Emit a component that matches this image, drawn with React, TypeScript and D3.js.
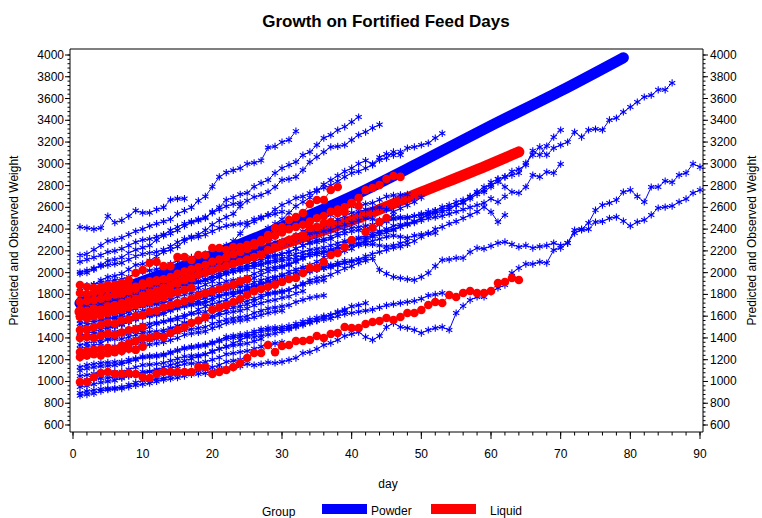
import React from 'react';
import * as d3 from 'd3';

type Pt = [number, number];

const title = 'Growth on Fortified Feed Days';
const xLabel = 'day';
const yLabel = 'Predicted and Observed Weight';
const legendTitle = 'Group';
const groupNames = ['Powder', 'Liquid'];
const xTickLabels = [0, 10, 20, 30, 40, 50, 60, 70, 80, 90];
const yTickLabels = [600, 800, 1000, 1200, 1400, 1600, 1800, 2000, 2200, 2400, 2600, 2800, 3000, 3200, 3400, 3600, 3800, 4000];

// predicted curves (day, weight)
const powderPredDays = [1, 10, 20, 30, 40, 50, 60, 70, 79];
const powderPredWeights = [1720, 1920, 2160, 2420, 2700, 3020, 3350, 3670, 3975];
const liquidPredDays = [1, 10, 20, 30, 40, 50, 60, 64];
const liquidPredWeights = [1640, 1830, 2040, 2260, 2480, 2740, 3000, 3110];

// observed weights, one value per day starting at day 1
const powderSubjects: number[][] = [
  [2420,2410,2400,2410,2520,2460,2480,2520,2570,2550,2550,2580,2600,2670,2680,2680],
  [2160,2170,2210,2250,2290,2300,2320,2350,2380,2400,2430,2450,2470,2490,2540,2570,2600,2660,2700,2790,2880,2920,2940,2960,3000,3010,3030,3150,3160,3200,3220,3300],
  [1990,2000,2030,2070,2110,2120,2140,2180,2210,2230,2250,2300,2340,2360,2390,2430,2460,2480,2500,2560,2600,2667,2690,2720,2732,2790,2824,2851,2915,2960,2990,3017,3080,3109,3173,3237,3265,3310,3340,3385,3430],
  [1860,1870,1890,1930,1960,1970,1990,2030,2070,2080,2110,2150,2190,2210,2240,2290,2330,2350,2390,2440,2480,2510,2540,2610,2660,2695,2713,2741,2787,2851,2860,2880,2943,3017,3063,3109,3155,3160,3173,3219,3265,3292,3330,3360],
  [1640,1670,1690,1710,1720,1750,1750,1800,1830,1850,1870,1890,1910,1950,1980,2010,2030,2060,2090,2140,2190,2230,2290,2360,2438,2470,2500,2530,2580,2621,2650,2686,2700,2730,2760,2780,2800,2840,2880,2915,2930,2960,2990,3035,3053,3109,3081,3145,3155,3173,3191,3237,3280],
  [1300,1320,1330,1350,1390,1410,1430,1440,1460,1470,1500,1530,1550,1560,1570,1590,1630,1660,1690,1710,1730,1750,1790,1820,1860,1880,1900,1920,1950,1980,2010,2030,2050,2070,2100,2140,2170,2190,2200,2220,2260,2300,2330,2350,2370,2390,2420,2450,2470,2500,2530,2570,2603,2621,2650,2667,2695,2741,2787,2806,2833,2880,2897,2915,3007,3081,3155,3081,3145,3173,3200,3292,3246,3311,3320,3311,3403,3421,3476,3522,3568,3614,3630,3680,3680,3743],
  [1500,1520,1540,1570,1580,1590,1610,1640,1670,1700,1710,1720,1740,1770,1800,1830,1850,1860,1890,1920,1960,1990,2010,2030,2050,2080,2110,2140,2150,2170,2190,2220,2250,2280,2300,2310,2330,2360,2390,2410,2420,2430,2440,2460,2480,2500,2510,2500,2520,2540,2560,2570,2580,2600,2620,2640,2700,2740,2741,2790,2860,2880,2930,2950,2990,3120,3081,3164,3246,3311],
  [1420,1440,1460,1480,1490,1500,1520,1550,1580,1600,1610,1620,1640,1670,1700,1720,1730,1740,1770,1800,1830,1860,1880,1890,1920,1950,1980,2010,2030,2050,2070,2100,2130,2160,2170,2180,2210,2240,2270,2300,2310,2320,2340,2370,2400,2430,2440,2450,2470,2500,2530,2550,2560,2580,2620,2650,2680,2720,2760,2830,2860,2787,2741,2732,2787,2897,2880,2925,2915,2998],
  [1240,1260,1280,1300,1310,1320,1340,1370,1390,1410,1420,1430,1450,1480,1510,1530,1540,1550,1570,1600,1630,1660,1680,1690,1710,1740,1770,1800,1810,1820,1840,1870,1900,1930,1950,1960,1980,2010,2040,2060,2090,2110,2130,2024,1990,1960,1950,1940,1932,1960,1997,2060,2116,2120,2134,2134,2190,2226,2220,2245,2272,2282,2260,2236,2250,2226,2240,2250,2272,2250,2272,2392,2400,2456,2575,2621,2640,2667,2741,2760,2700,2649,2787,2787,2842,2830,2897,2915,3000,2970],
  [870,880,890,910,925,930,935,950,965,975,985,1000,1015,1025,1035,1050,1065,1070,1075,1095,1115,1120,1125,1140,1160,1150,1160,1175,1170,1180,1197,1215,1261,1270,1298,1335,1353,1381,1418,1436,1454,1408,1381,1418,1500,1537,1500,1491,1473,1445,1473,1490,1500,1473,1629,1693,1748,1776,1776,1822,1859,1886,1997,2042,2079,2079,2098,2088,2208,2226,2272,2364,2392,2400,2465,2470,2500,2511,2474,2429,2465,2484,2530,2594,2603,2612,2649,2677,2732,2760],
  [950,960,975,990,1000,1010,1030,1050,1060,1070,1090,1110,1130,1150,1170,1190,1210,1230,1250,1280,1300,1320,1350,1380,1408,1410,1420,1430,1440,1460,1480,1500,1520,1540,1560,1590,1610,1630,1650],
  [2100,2120,2140,2160,2190,2200,2220,2250,2280,2300,2310,2330,2350,2390,2420,2450,2470,2490,2510,2550,2580,2610,2630,2640],
  [1560,1580,1600,1630,1640,1650,1670,1700,1730,1760,1780,1800,1820,1850,1880,1910,1930,1950,1980,2020,2060,2110,2150,2180,2220,2280,2340,2410,2450,2490,2550,2610,2650,2690,2750,2810,2850,2890,2930,2960,3000,3030,3000,3060,3090,3080,3110],
  [2006,2020,2040,2060,2070,2080,2090,2120,2150,2170,2180,2190,2210,2240,2280,2310,2320,2330,2350,2380,2410,2430,2440,2450,2460,2490,2510,2530,2540,2560],
  [1730,1750,1770,1790,1800,1800,1810,1840,1870,1890,1900,1910,1930,1960,1990,2010,2020,2030,2050,2080,2110,2130,2140,2150,2170,2200,2230,2260,2280,2290,2310,2340,2380,2410,2430,2440,2460,2490,2520,2550,2560,2580,2590,2600,2580,2560,2590,2620,2650,2690],
  [1629,1640,1650,1660,1670,1680,1690,1720,1750,1770,1780,1790,1810,1840,1870,1890,1900,1910,1940,1970,2000,2020,2030,2050,2070,2100,2130,2150,2160,2170,2190,2220,2250,2270,2280,2290,2310,2340,2360,2380,2390,2400,2410,2440,2470,2490,2500,2510,2520,2530,2540,2548],
  [1583,1590,1600,1610,1615,1620,1630,1650,1670,1690,1700,1710,1720,1750,1780,1800,1810,1820,1840,1870,1900,1920,1930,1940,1960,1990,2020,2040,2050,2060,2080,2110,2140,2160,2170,2180,2190,2210,2240,2260,2270,2280,2290,2310,2330,2340,2330,2320,2340,2350,2360,2364],
  [1473,1490,1500,1510,1515,1520,1530,1550,1570,1590,1600,1610,1620,1650,1670,1690,1700,1710,1720,1750,1780,1800,1810,1820,1840,1860,1890,1910,1920,1930,1950,1980,2000,2020,2030,2040,2050,2070,2090,2110,2120,2130],
  [1408,1420,1440,1450,1450,1455,1460,1480,1500,1520,1530,1540,1550,1570,1590,1610,1620,1630,1640,1670,1690,1710,1720,1730,1740,1760,1790,1810,1820,1830,1840,1870,1890,1910,1920,1930],
  [1335,1350,1370,1380,1385,1390,1390,1410,1430,1450,1455,1460,1470,1490,1510,1540,1550,1560,1570,1590,1610,1630,1640,1650,1670,1700,1720,1740,1750,1770,1780,1810,1830],
  [1215,1230,1250,1260,1260,1265,1270,1290,1310,1330,1340,1350,1360,1380,1400,1430,1440,1450,1460,1490,1510,1540,1550,1560,1570,1590,1610,1630,1640,1650],
  [1133,1150,1160,1170,1175,1178,1180,1200,1210,1230,1235,1240,1250,1270,1290,1310,1320,1330,1340,1360,1380,1410,1420,1430,1440,1460,1480,1490,1495,1500,1510,1530,1550,1570,1585,1600,1610,1640,1660,1690,1700,1720],
  [1000,1010,1020,1030,1035,1038,1040,1060,1070,1090,1092,1096,1100,1120,1140,1160,1165,1170,1180,1200,1220,1250,1260,1270,1280,1300,1320,1340,1350,1360],
  [894,910,920,930,935,940,950,970,990,1010,1015,1020,1030,1050,1070,1090,1095,1100,1110,1130,1150,1180,1190,1200],
  [1859,1880,1890,1910,1920,1930,1940,1960,1990,2010,2020,2030,2050,2080,2110,2130,2140,2150,2170,2200,2230,2250,2260,2270,2280,2300,2330,2360,2380,2390,2410,2440,2470,2490,2500,2510,2530,2560,2590,2610,2620,2630,2640,2670,2700,2710,2715,2720],
  [1780,1800,1820,1830,1835,1840,1850,1870,1890,1910,1920,1930,1940,1960,1990,2010,2020,2030,2040,2070,2100,2120,2130,2140,2160,2190,2220,2240,2250,2260,2280,2310,2340,2360,2370,2380,2390,2420,2440,2460,2480,2500,2490,2480,2500,2530],
  [1690,1700,1720,1730,1735,1738,1740,1760,1790,1810,1820,1830,1840,1860,1880,1900,1910,1920,1930,1950,1980,2000,2010,2020,2030,2050,2070,2090,2100,2110,2120,2140,2160,2180,2190,2195,2200,2220,2230,2250,2255,2258,2260,2250,2240,2250,2270,2290],
  [1530,1545,1560,1570,1575,1580,1590,1610,1630,1650,1660,1670,1680,1710,1730,1750,1760,1770,1780,1810,1830,1850,1860,1870,1880,1910,1930,1950,1960,1970,1980,2010,2030,2050,2060,2065,2070,2090,2110],
  [1260,1280,1290,1300,1300,1305,1310,1330,1350,1370,1380,1390,1400,1430,1450,1470,1480,1490,1500,1530,1550,1570,1580,1590,1600,1630,1650,1670,1680,1690,1700,1730,1750,1770,1780,1790],
  [1050,1060,1070,1080,1082,1085,1090,1110,1130,1150,1155,1160,1170,1190,1210,1230,1235,1240,1250,1270,1300,1320,1330,1340,1350,1370,1390],
  [1100,1120,1130,1140,1145,1150,1160,1180,1200,1220,1225,1230,1240,1260,1280,1300,1310,1320,1330,1350,1370,1390,1400,1410,1420,1440,1460,1470,1475,1480,1490,1510,1530,1550,1560,1570,1580,1600,1620,1630,1640,1650,1660,1680,1700,1710,1720,1730,1740,1760,1790,1800,1813],
  [1450,1470,1490,1500,1505,1510,1530,1550,1580,1600,1610,1620,1640,1660,1680,1700,1710,1720,1740,1770,1790,1810,1820,1830,1850,1870,1890,1910,1920,1930,1950,1970,1990,2010,2030,2040,2060,2070,2090,2100,2120,2150,2170,2190,2210,2230,2240,2260,2290,2330,2360,2400,2420,2450,2470,2500,2530,2560,2603,2557,2465,2530],
  [1600,1620,1640,1660,1670,1680,1700,1720,1750,1770,1780,1790,1820,1840,1860,1870,1890,1910,1930,1950,1960,1990,2010,2030,2050,2070,2080,2100,2120,2130,2150,2170,2190,2210,2220,2230,2250,2270,2290,2300,2320,2340,2360,2380,2390,2400,2420,2440,2460,2480,2500,2510,2520,2540,2560,2580,2600,2620,2640,2680,2650,2700],
];

const liquidSubjects: number[][] = [
  [995,995,1041,1078,1087,1068,1068,1078,1068,1041,1032,1068,1087,1087,1087,1087,1087,1133,1133,1068,1087,1105,1133,1170,1215,1261,1261,1335,1270,1326,1335,1372,1372,1381,1418,1399,1436,1445,1500,1491,1491,1528,1546,1555,1583,1565,1592,1629,1629,1657,1703,1730,1721,1794,1776,1813,1831,1813,1813,1831,1905,1914,1951,1932],
  [1600,1610,1640,1650,1660,1700,1720,1740,1760,1790,1810,1830,1860,1880,1900,1930,1950,1980,2000,2020,2040,2060,2080,2100,2120,2144,2162,2208,2236,2272,2300,2327,2346,2410,2419,2456,2465,2548,2557,2640,2686,2760,2778,2805,2860,2888,2880],
  [1886,1868,1859,1868,1886,1886,1905,1932,1997,2024,2088,2098,2060,2060,2144,2144,2116,2162,2162,2226,2226,2208,2236,2236,2254,2272,2300,2346,2410,2419,2484,2511,2548,2631,2667,2667,2760,2787],
  [1271,1280,1290,1300,1310,1300,1330,1350,1372,1399,1399,1418,1408,1445,1473,1500,1537,1560,1592,1657,1680,1700,1730,1760,1794,1830,1850,1870,1890,1914,1941,1951,1997,2042,2042,2098,2162,2180,2236,2300],
  [1730,1740,1750,1760,1780,1800,1810,1830,1850,1880,1900,1920,1940,1960,1990,2010,2030,2050,2070,2100,2120,2140,2170,2190,2220,2250,2280,2310,2340,2370,2400,2420,2440,2470,2500,2520,2560,2580,2600,2640,2612,2373,2410,2465,2502],
  [1813,1800,1820,1830,1850,1840,1860,1880,1870,1900,1920,1930],
  [1657,1650,1670,1660,1690,1700,1690,1720,1740,1750,1760,1790,1800,1830],
  [1473,1480,1500,1520,1540,1530,1560,1570,1600,1610,1640,1650,1680,1700,1720,1740,1760,1790,1810,1830,1850,1870,1890,1920,1940],
  [1399,1410,1400,1420,1440,1430,1450,1470,1480,1500],
  [1592,1580,1600,1610,1630,1640,1660,1680,1700,1720,1730,1760,1770,1800,1820,1840,1860],
  [1225,1240,1250,1240,1260,1270,1280,1300,1290,1320],
];

const BLUE = '#0000ff';
const RED = '#ff0000';
const FONT = "'Liberation Sans', Arial, Helvetica, sans-serif";

const frame = { left: 70, right: 703, top: 49, bottom: 432 };
const x = d3.scaleLinear().domain([0, 90]).range([73, 700]);
const y = d3.scaleLinear().domain([600, 4000]).range([425, 55]);

const lineGen = d3.line<Pt>().x(d => x(d[0])).y(d => y(d[1]));
const predGen = d3.line<Pt>().x(d => x(d[0])).y(d => y(d[1])).curve(d3.curveMonotoneX);

const starPath = 'M0,-3.6V3.6M-3.1,-1.8L3.1,1.8M-3.1,1.8L3.1,-1.8';

const toPoints = (ws: number[]): Pt[] => ws.map((w, i) => [i + 1, w] as Pt);

export default function App() {
  const powderPred = d3.zip(powderPredDays, powderPredWeights) as Pt[];
  const liquidPred = d3.zip(liquidPredDays, liquidPredWeights) as Pt[];
  const yMinor = d3.range(600, 4000.1, 40);
  const xMinor = d3.range(0, 90.1, 2);
  const yMid = (frame.top + frame.bottom) / 2;
  const powderPts = powderSubjects.map(toPoints);
  const liquidPts = liquidSubjects.map(toPoints);

  return (
    <svg width={762} height={518} style={{ position: 'absolute', left: 0, top: 0, background: '#fff' }} fontFamily={FONT}>
      <rect x={0} y={0} width={762} height={518} fill="#fff" />
      <text x={386} y={27} textAnchor="middle" fontSize={17} fontWeight="bold" fill="#000">{title}</text>

      <path d={predGen(powderPred) || ''} fill="none" stroke={BLUE} strokeWidth={11} strokeLinecap="round" strokeLinejoin="round" />
      <path d={predGen(liquidPred) || ''} fill="none" stroke={RED} strokeWidth={11} strokeLinecap="round" strokeLinejoin="round" />

      {powderPts.map((s, i) => (
        <g key={'p' + i}>
          <path d={lineGen(s) || ''} fill="none" stroke={BLUE} strokeWidth={1} />
          {s.map((p, j) => (
            <path key={j} d={starPath} transform={`translate(${x(p[0])},${y(p[1])})`} stroke={BLUE} strokeWidth={1.1} fill="none" />
          ))}
        </g>
      ))}

      {liquidPts.map((s, i) => (
        <g key={'l' + i}>
          <path d={lineGen(s) || ''} fill="none" stroke={RED} strokeWidth={1} />
          {s.map((p, j) => (
            <circle key={j} cx={x(p[0])} cy={y(p[1])} r={4.3} fill={RED} />
          ))}
        </g>
      ))}

      <line x1={frame.left} x2={frame.right} y1={frame.top} y2={frame.top} stroke="#555" strokeWidth={1.5} />
      <line x1={frame.left} x2={frame.left} y1={frame.top} y2={frame.bottom} stroke="#000" strokeWidth={1} />
      <line x1={frame.right} x2={frame.right} y1={frame.top} y2={frame.bottom} stroke="#000" strokeWidth={1} />
      <line x1={frame.left} x2={frame.right} y1={frame.bottom} y2={frame.bottom} stroke="#000" strokeWidth={1} />

      {yMinor.map(v => (
        <g key={'ym' + v}>
          <line x1={frame.left - 2.5} x2={frame.left} y1={y(v)} y2={y(v)} stroke="#000" />
          <line x1={frame.right} x2={frame.right + 2.5} y1={y(v)} y2={y(v)} stroke="#000" />
        </g>
      ))}
      {yTickLabels.map(v => (
        <g key={'y' + v}>
          <line x1={frame.left - 5} x2={frame.left} y1={y(v)} y2={y(v)} stroke="#000" />
          <line x1={frame.right} x2={frame.right + 5} y1={y(v)} y2={y(v)} stroke="#000" />
          <text x={frame.left - 6} y={y(v) + 4} textAnchor="end" fontSize={12} fill="#000">{v}</text>
          <text x={frame.right + 7} y={y(v) + 4} textAnchor="start" fontSize={12} fill="#000">{v}</text>
        </g>
      ))}

      {xMinor.map(v => (
        <line key={'xm' + v} x1={x(v)} x2={x(v)} y1={frame.bottom} y2={frame.bottom + 3.5} stroke="#000" />
      ))}
      {xTickLabels.map(v => (
        <g key={'x' + v}>
          <line x1={x(v)} x2={x(v)} y1={frame.bottom} y2={frame.bottom + 7} stroke="#000" />
          <text x={x(v)} y={458} textAnchor="middle" fontSize={12} fill="#000">{v}</text>
        </g>
      ))}

      <text x={388} y={488} textAnchor="middle" fontSize={12} fill="#000">{xLabel}</text>
      <text transform={`translate(18,${yMid}) rotate(-90)`} textAnchor="middle" fontSize={12} fill="#000">{yLabel}</text>
      <text transform={`translate(756,${yMid}) rotate(-90)`} textAnchor="middle" fontSize={12} fill="#000">{yLabel}</text>

      <text x={262} y={516} fontSize={12} fill="#000">{legendTitle}</text>
      <rect x={322} y={504} width={45} height={10} fill={BLUE} />
      <text x={371} y={515} fontSize={12} fill="#000">{groupNames[0]}</text>
      <rect x={431} y={504} width={45} height={10} fill={RED} />
      <text x={490} y={515} fontSize={12} fill="#000">{groupNames[1]}</text>
    </svg>
  );
}
